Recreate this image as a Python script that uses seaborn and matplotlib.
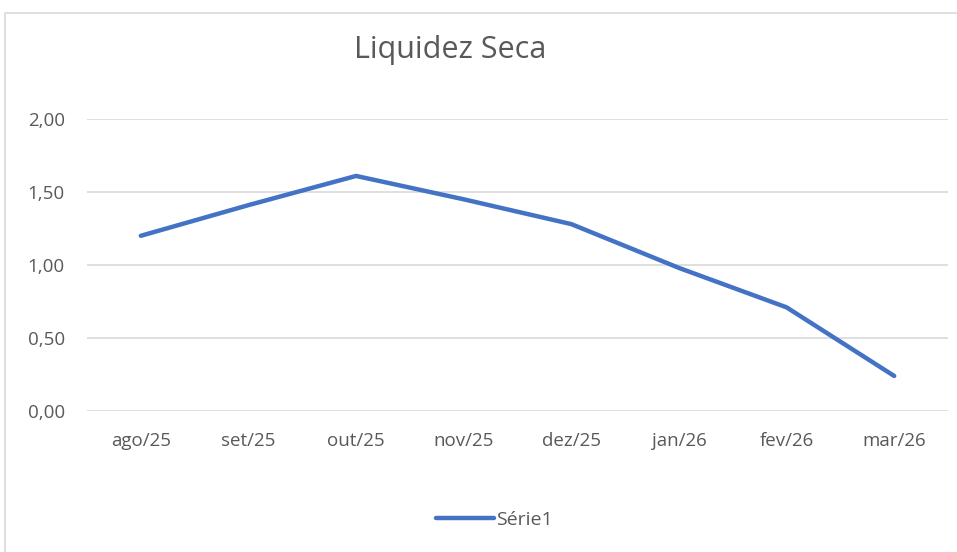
import matplotlib
matplotlib.use("Agg")
import matplotlib.pyplot as plt
import seaborn as sns
import pandas as pd
from matplotlib.patches import Rectangle
from matplotlib.lines import Line2D

# data
months = ["ago/25", "set/25", "out/25", "nov/25", "dez/25", "jan/26", "fev/26", "mar/26"]
values = [1.20, 1.41, 1.61, 1.45, 1.28, 0.98, 0.71, 0.24]
y_ticks = [0.0, 0.5, 1.0, 1.5, 2.0]

sns.set_style("white")
plt.rcParams["font.family"] = ["Open Sans", "DejaVu Sans"]

df = pd.DataFrame({"mes": months, "valor": values})

fig = plt.figure(figsize=(9.57, 5.52), dpi=100)
ax = fig.add_axes([87 / 957, 1 - 411 / 552, (948 - 87) / 957, (411 - 119) / 552])

# chart frame
fig.patches.append(Rectangle((5 / 957, -0.1), 1.1, 1 - 13 / 552 + 0.1, transform=fig.transFigure,
                             fill=False, edgecolor="#d9d9d9", linewidth=1.2, zorder=0))

line_color = "#4472C4"
sns.lineplot(data=df, x="mes", y="valor", sort=False, ax=ax, color=line_color,
             linewidth=3.2, solid_capstyle="round")

ax.set_xlim(-0.5, len(months) - 0.5)
ax.set_ylim(0, 2.0)
ax.set_yticks(y_ticks)
ax.set_yticklabels([f"{v:.2f}".replace(".", ",") for v in y_ticks])
ax.yaxis.grid(True, color="#d9d9d9", linewidth=1.2)
ax.set_axisbelow(True)
for s in ax.spines.values():
    s.set_visible(False)
ax.tick_params(axis="both", length=0, labelsize=13.5, labelcolor="#595959")
ax.tick_params(axis="x", pad=15)
ax.tick_params(axis="y", pad=16)
ax.set_xlabel("")
ax.set_ylabel("")

fig.text(450 / 957, 1 - 50 / 552, "Liquidez Seca", ha="center", va="center",
         fontsize=22, color="#595959")

handle = Line2D([], [], color=line_color, linewidth=3.2)
fig.legend([handle], ["Série1"], loc="center", bbox_to_anchor=(494 / 957, 1 - 520 / 552),
           frameon=False, fontsize=14, labelcolor="#595959", handlelength=3.0, handletextpad=0.1)

fig.savefig("out.png", dpi=100, facecolor="white")
